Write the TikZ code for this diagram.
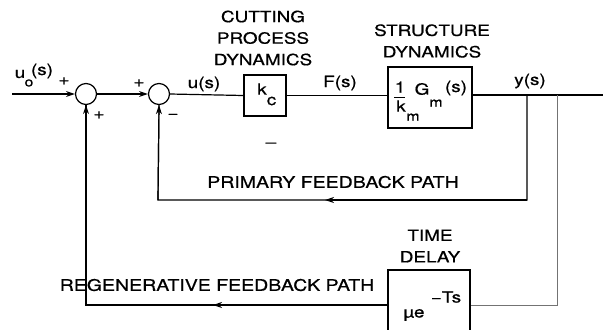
\documentclass[tikz,border=0pt]{standalone}
\usepackage{fontspec}
\setmainfont{TeX Gyre Heros}[FakeStretch=1.22,FakeBold=0.6]
\usetikzlibrary{arrows.meta}
\newcommand\lblfont{\fontsize{15.5bp}{21.5bp}\selectfont}
\newcommand\sigfont{\fontsize{15.5bp}{18bp}\selectfont}
\newcommand\subfont{\fontsize{13bp}{15bp}\selectfont}
\begin{document}
\begin{tikzpicture}[x=1bp,y=-1bp,
  wire/.style={line width=1.2bp},
  greywire/.style={line width=1bp,draw=black!55},
  sumnode/.style={circle,draw,line width=1.2bp,minimum size=21bp,inner sep=0pt},
  blockbox/.style={draw,line width=1.2bp,inner sep=0pt},
  arr/.style={-{Stealth[length=9bp,width=6bp]}},
  lbl/.style={font=\lblfont,align=center,inner sep=0pt},
  sig/.style={font=\sigfont,inner sep=0pt},
  sgn/.style={font=\sigfont,inner sep=0pt}]
\useasboundingbox (0,0) rectangle (610,329);
\clip (0,0) rectangle (610,329);

% nodes
\node[sumnode] (s1) at (86,94) {};
\node[sumnode] (s2) at (159,94) {};
\node[blockbox,minimum width=42bp,minimum height=41bp] (kc) at (265,95.5) {};
\node[blockbox,minimum width=84bp,minimum height=61bp] (gm) at (430,97.5) {};
\node[blockbox,minimum width=82bp,minimum height=62bp] (delay) at (429,301) {};

\coordinate (in) at (12,94);
\coordinate (out) at (603,95);
\coordinate (pb) at (527,95);
\coordinate (pc) at (527,200);
\coordinate (pd) at (158,200);
\coordinate (pt) at (325,200);
\coordinate (rb) at (557,95);
\coordinate (rc) at (557,305);
\coordinate (rd) at (86,305);
\coordinate (rt) at (213,305);

% forward path
\draw[wire,arr] (in) -- (s1.west);
\draw[wire,arr] (s1.east) -- (s2.west);
\draw[wire] (s2.east) -- (kc.west);
\draw[wire] (kc.east) -- (kc.east -| gm.west);
\draw[wire] (gm.east |- out) -- (out);

% primary feedback
\draw[wire] (pb) -- (pc) -- (pd) -- (s2.south);
\draw[wire,arr] (pc) -- (pt);
\draw[wire,arr] (pd) -- (s2.south);

% regenerative feedback
\draw[greywire] (rb) -- (rc) -- (delay.east |- rc);
\draw[wire] (delay.west |- rd) -- (rd) -- (s1.south);
\draw[wire,arr] (delay.west |- rt) -- (rt);
\draw[wire,arr] (rd) -- (s1.south);

% block contents
\node[sig] (kk) at (262,89) {k};
\node[sig] (kcs) at (271.5,101) {c};
\node[sig] (one) at (400,87) {1};
\draw[wire,line width=0.9bp] (394,97) -- (405,97);
\node[sig] (km) at (401,106) {k};
\node[font=\subfont,inner sep=0pt] (kms) at (413,117) {m};
\node[sig] (gg) at (422,89) {G};
\node[font=\subfont,inner sep=0pt] (ggs) at (436,103) {m};
\node[sig] (ggp) at (456,88) {(s)};
\node[sig] (mts) at (446,297) {\textminus Ts};
\node[sig] (mue) at (414,315) {µe};

% labels
\node[lbl] (l1) at (263,38) {CUTTING\\PROCESS\\DYNAMICS};
\node[lbl] (l2) at (432,41) {STRUCTURE\\DYNAMICS};
\node[lbl] (l3) at (430,246) {TIME\\DELAY};
\node[lbl,font=\fontsize{16bp}{18bp}\selectfont] (l4) at (333,182) {PRIMARY FEEDBACK PATH};
\node[lbl,font=\fontsize{16bp}{18bp}\selectfont] (l5) at (217,285) {REGENERATIVE FEEDBACK PATH};

\node[sig] (us) at (204,84) {u(s)};
\node[sig] (fs) at (340,83) {F(s)};
\node[sig] (ys) at (530,81) {y(s)};
\node[sig] (u0) at (20,74) {u};
\node[font=\subfont,inner sep=0pt] (u0s) at (29,83) {o};
\node[sig] (u0p) at (42,71) {(s)};

\node[sgn] (p1) at (64,81) {+};
\node[sgn] (p2) at (99,115) {+};
\node[sgn] (p3) at (139,83) {+};
\node[sgn] (m1) at (173,116) {\textminus};
\node[sgn] (stray) at (271,145) {\textendash};
\end{tikzpicture}
\end{document}
